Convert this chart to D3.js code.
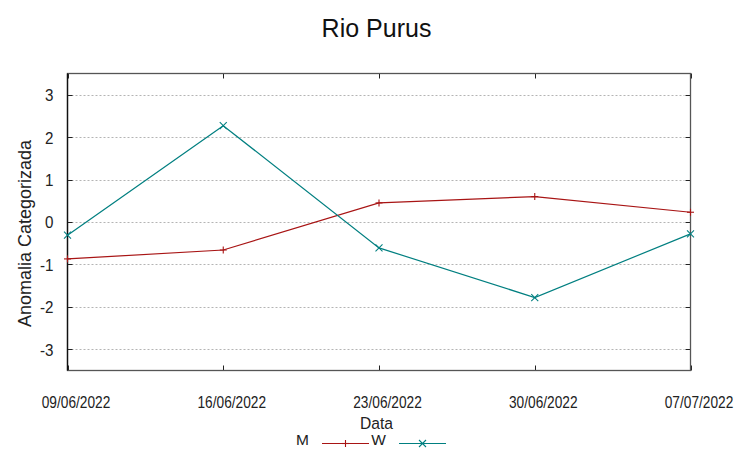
<!DOCTYPE html>
<html>
<head>
<meta charset="utf-8">
<script src="https://cdn.jsdelivr.net/npm/d3@7"></script>
<style>
  html, body { margin: 0; padding: 0; background: #fff; }
  svg { display: block; }
</style>
</head>
<body>
<svg id="chart" width="753" height="459"></svg>
<script>
const dates = ["09/06/2022", "16/06/2022", "23/06/2022", "30/06/2022", "07/07/2022"];
const mValues = [-0.87, -0.66, 0.45, 0.60, 0.23];
const wValues = [-0.31, 2.27, -0.61, -1.78, -0.28];
const yTicks = [-3, -2, -1, 0, 1, 2, 3];
const seriesNames = ["M", "W"];
const seriesColors = ["#a81414", "#007f80"];

(function () {
const svg = d3.select("#chart");
const pLeft = 67.5, pRight = 690.5, pTop = 73.5, pBottom = 370.5;
const font = "'Liberation Sans', Arial, sans-serif";

const x = d3.scalePoint().domain(dates).range([pLeft, pRight]);
const y = d3.scaleLinear().domain([-3.5, 3.5]).range([pBottom, pTop]);

// grid
svg.append("g").selectAll("line").data(yTicks).join("line")
  .attr("x1", pLeft + 4).attr("x2", pRight - 6)
  .attr("y1", d => Math.round(y(d)) + 0.5).attr("y2", d => Math.round(y(d)) + 0.5)
  .attr("stroke", "#b4b4b4").attr("stroke-width", 1)
  .attr("stroke-dasharray", "2,2");

// y tick labels via axis
const yAxis = d3.axisLeft(y).tickValues(yTicks).tickSize(0).tickPadding(0).tickFormat(d => String(d));
const ya = svg.append("g").attr("transform", `translate(${53.5},0)`).call(yAxis);
ya.select(".domain").remove();
ya.selectAll("text")
  .attr("font-family", font)
  .attr("font-size", 16.5).attr("fill", "#222").attr("dy", "0.36em")
  .attr("transform", "scale(0.92,1)");

// x tick labels via axis
const xAxis = d3.axisBottom(x).tickSize(0).tickPadding(0);
const xa = svg.append("g").attr("transform", `translate(8,${408})`).call(xAxis);
xa.select(".domain").remove();
xa.selectAll("text")
  .attr("font-family", font)
  .attr("font-size", 16.5).attr("fill", "#222").attr("dy", 0)
  .attr("transform", "scale(0.83,1)");

// tick marks (inward, mirrored)
const tickG = svg.append("g").attr("stroke", "#222").attr("stroke-width", 1);
yTicks.forEach(d => {
  const yy = Math.round(y(d)) + 0.5;
  tickG.append("line").attr("x1", pLeft).attr("x2", pLeft + 5).attr("y1", yy).attr("y2", yy);
  tickG.append("line").attr("x1", pRight - 5).attr("x2", pRight).attr("y1", yy).attr("y2", yy);
});
dates.forEach(d => {
  const xx = Math.round(x(d)) + 0.5;
  tickG.append("line").attr("x1", xx).attr("x2", xx).attr("y1", pTop).attr("y2", pTop + 5);
  tickG.append("line").attr("x1", xx).attr("x2", xx).attr("y1", pBottom - 5).attr("y2", pBottom);
});

// frame
svg.append("rect").attr("x", pLeft).attr("y", pTop)
  .attr("width", pRight - pLeft).attr("height", pBottom - pTop)
  .attr("fill", "none").attr("stroke", "#555").attr("stroke-width", 1.3);
svg.append("line").attr("x1", pLeft).attr("x2", pLeft).attr("y1", pTop).attr("y2", pBottom)
  .attr("stroke", "#111").attr("stroke-width", 1.3);

// series
const line = d3.line().x((d, i) => x(dates[i])).y(d => y(d));
const series = [mValues, wValues];
const ms = 3.5;
series.forEach((vals, si) => {
  const c = seriesColors[si];
  svg.append("path").datum(vals).attr("d", line)
    .attr("fill", "none").attr("stroke", c).attr("stroke-width", 1.2);
  const g = svg.append("g").attr("stroke", c).attr("stroke-width", 1.1);
  vals.forEach((v, i) => {
    const px = x(dates[i]), py = y(v);
    if (si === 0) {
      g.append("line").attr("x1", px - ms).attr("x2", px + ms).attr("y1", py).attr("y2", py);
      g.append("line").attr("x1", px).attr("x2", px).attr("y1", py - ms).attr("y2", py + ms);
    } else {
      g.append("line").attr("x1", px - ms).attr("x2", px + ms).attr("y1", py - ms).attr("y2", py + ms);
      g.append("line").attr("x1", px - ms).attr("x2", px + ms).attr("y1", py + ms).attr("y2", py - ms);
    }
  });
});

// title
svg.append("text").attr("x", 376.5).attr("y", 37).attr("text-anchor", "middle")
  .attr("font-family", font).attr("font-size", 25)
  .attr("fill", "#111").text("Rio Purus");

// y label
svg.append("text").attr("transform", "translate(31,233.5) rotate(-90)")
  .attr("text-anchor", "middle")
  .attr("font-family", font).attr("font-size", 18)
  .attr("fill", "#222").text("Anomalia Categorizada");

// x label
svg.append("text").attr("transform", "translate(376.5,429) scale(0.92,1)").attr("text-anchor", "middle")
  .attr("font-family", font).attr("font-size", 17)
  .attr("fill", "#222").text("Data");

// legend
const legendRight = [309, 386];
seriesNames.forEach((name, si) => {
  const c = seriesColors[si];
  const xr = legendRight[si];
  svg.append("text").attr("x", xr).attr("y", 445).attr("text-anchor", "end")
    .attr("font-family", font).attr("font-size", 15.5)
    .attr("fill", "#222").text(name);
  const ly = 443.5, x1 = xr + 13, x2 = xr + 60, mx = (x1 + x2) / 2;
  svg.append("line").attr("x1", x1).attr("x2", x2).attr("y1", ly).attr("y2", ly)
    .attr("stroke", c).attr("stroke-width", 1.2);
  const g = svg.append("g").attr("stroke", c).attr("stroke-width", 1.1);
  if (si === 0) {
    g.append("line").attr("x1", mx - ms).attr("x2", mx + ms).attr("y1", ly).attr("y2", ly);
    g.append("line").attr("x1", mx).attr("x2", mx).attr("y1", ly - ms).attr("y2", ly + ms);
  } else {
    g.append("line").attr("x1", mx - ms).attr("x2", mx + ms).attr("y1", ly - ms).attr("y2", ly + ms);
    g.append("line").attr("x1", mx - ms).attr("x2", mx + ms).attr("y1", ly + ms).attr("y2", ly - ms);
  }
});
})();
</script>
</body>
</html>
